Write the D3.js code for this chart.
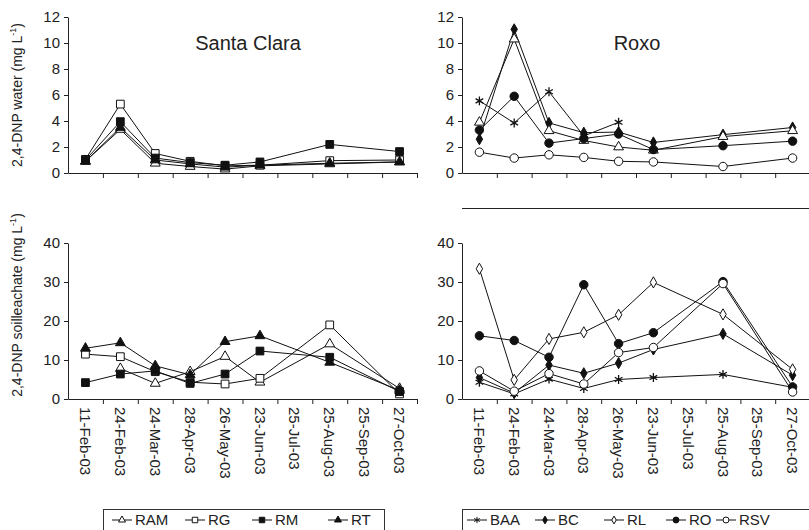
<!DOCTYPE html>
<html>
<head>
<meta charset="utf-8">
<title>2,4-DNP Santa Clara / Roxo</title>
<script src="https://d3js.org/d3.v7.min.js"></script>
<style>
html, body { margin: 0; padding: 0; background: #fff; }
svg { display: block; font-family: "Liberation Sans", Arial, sans-serif; }
.legend text { font-family: "Liberation Sans Narrow", "Liberation Sans", Arial, sans-serif; font-stretch: condensed; }
</style>
</head>
<body>
<div id="chart"></div>
<script>
// categories on the x axis (months with no sample are kept, lines jump over them)
var dates = ["11-Feb-03", "24-Feb-03", "24-Mar-03", "28-Apr-03", "26-May-03",
             "23-Jun-03", "25-Jul-03", "25-Aug-03", "25-Sep-03", "27-Oct-03"];

var waterTicks = [0, 2, 4, 6, 8, 10, 12];
var soilTicks = [0, 10, 20, 30, 40];

// Santa Clara, water (mg/L)
var scWaterRAM = [0.9, 3.35, 0.75, 0.5, 0.3, 0.55, null, 0.7, null, 0.85];
var scWaterRG  = [1.05, 5.3, 1.5, 0.9, 0.55, 0.6, null, 0.95, null, 1.0];
var scWaterRM  = [1.0, 3.95, 1.15, 0.8, 0.6, 0.85, null, 2.2, null, 1.65];
var scWaterRT  = [0.9, 3.5, 1.0, 0.7, 0.45, 0.6, null, 0.75, null, 0.85];

// Roxo, water (mg/L)
var rxWaterBAA = [5.55, 3.85, 6.25, 2.85, 3.9, null, null, null, null, null];
var rxWaterBC  = [2.6, 11.05, 3.85, 3.1, 3.15, 2.35, null, 2.95, null, 3.5];
var rxWaterRL  = [3.9, 10.3, 3.25, 2.5, 2.0, 1.75, null, 2.8, null, 3.25];
var rxWaterRO  = [3.3, 5.9, 2.3, 2.65, 3.0, 1.8, null, 2.1, null, 2.45];
var rxWaterRSV = [1.6, 1.15, 1.4, 1.2, 0.9, 0.85, null, 0.5, null, 1.15];

// Santa Clara, soil leachate (mg/L)
var scSoilRAM = [null, 7.8, 4.0, 7.0, 10.9, 4.3, null, 14.1, null, 2.7];
var scSoilRG  = [11.5, 10.85, 7.0, 4.3, 3.85, 5.3, null, 19.0, null, 1.3];
var scSoilRM  = [4.2, 6.4, 7.2, 4.0, 6.4, 12.3, null, 10.7, null, 1.9];
var scSoilRT  = [13.0, 14.4, 8.5, 6.2, 14.7, 16.2, null, 9.4, null, 2.2];

// Roxo, soil leachate (mg/L)
var rxSoilBAA = [4.3, 1.3, 5.1, 2.7, 5.0, 5.5, null, 6.3, null, 3.0];
var rxSoilBC  = [5.5, 1.5, 8.7, 6.6, 9.2, 12.7, null, 16.7, null, 6.1];
var rxSoilRL  = [33.4, 4.9, 15.4, 17.1, 21.6, 29.9, null, 21.7, null, 7.6];
var rxSoilRO  = [16.2, 15.0, 10.7, 29.3, 14.2, 17.0, null, 30.1, null, 3.1];
var rxSoilRSV = [7.2, 2.0, 6.5, 3.85, 11.9, 13.2, null, 29.6, null, 1.8];

var W = 809, H = 530;
var svg = d3.select("#chart").append("svg").attr("width", W).attr("height", H);

var marker = {
  "triOpen":  { type: d3.symbolTriangle, size: 42, fill: "#fff" },
  "triFill":  { type: d3.symbolTriangle, size: 42, fill: "#111" },
  "sqOpen":   { type: d3.symbolSquare, size: 60, fill: "#fff" },
  "sqFill":   { type: d3.symbolSquare, size: 60, fill: "#111" },
  "star":     { type: d3.symbolAsterisk, size: 55, fill: "none" },
  "diaFill":  { type: d3.symbolDiamond, size: 36, fill: "#111" },
  "diaOpen":  { type: d3.symbolDiamond, size: 36, fill: "#fff" },
  "cirFill":  { type: d3.symbolCircle, size: 56, fill: "#111" },
  "cirOpen":  { type: d3.symbolCircle, size: 56, fill: "#fff" }
};

var panels = [
  { x0: 68, x1: 417, top: 17, bottom: 173, max: 12, ticks: waterTicks, title: "Santa Clara", tx: 248, labels: false,
    series: [[scWaterRAM, "triOpen"], [scWaterRG, "sqOpen"], [scWaterRM, "sqFill"], [scWaterRT, "triFill"]] },
  { x0: 462, x1: 810, top: 17, bottom: 173, max: 12, ticks: waterTicks, title: "Roxo", tx: 637, labels: false,
    series: [[rxWaterBAA, "star"], [rxWaterBC, "diaFill"], [rxWaterRL, "triOpen"], [rxWaterRO, "cirFill"], [rxWaterRSV, "cirOpen"]] },
  { x0: 68, x1: 417, top: 243, bottom: 399, max: 40, ticks: soilTicks, labels: true,
    series: [[scSoilRAM, "triOpen"], [scSoilRG, "sqOpen"], [scSoilRM, "sqFill"], [scSoilRT, "triFill"]] },
  { x0: 462, x1: 810, top: 243, bottom: 399, max: 40, ticks: soilTicks, labels: true,
    series: [[rxSoilBAA, "star"], [rxSoilBC, "diaFill"], [rxSoilRL, "diaOpen"], [rxSoilRO, "cirFill"], [rxSoilRSV, "cirOpen"]] }
];

function drawMarker(sel, key) {
  var m = marker[key];
  sel.attr("d", d3.symbol().type(m.type).size(m.size))
    .attr("fill", m.fill)
    .attr("stroke", "#111")
    .attr("stroke-width", key === "star" ? 1.3 : 1);
}

panels.forEach(function (p) {
  var g = svg.append("g");
  var x = d3.scaleBand().domain(dates).range([p.x0, p.x1]).paddingInner(0).paddingOuter(0);
  var xi = d3.scaleLinear().domain([0, dates.length]).range([p.x0, p.x1]);
  var y = d3.scaleLinear().domain([0, p.max]).range([p.bottom, p.top]);
  var cx = function (i) { return x(dates[i]) + x.bandwidth() / 2; };

  // y axis
  g.append("g")
    .attr("transform", "translate(" + p.x0 + ",0)")
    .call(d3.axisLeft(y).tickValues(p.ticks).tickSize(4).tickPadding(4).tickSizeOuter(0))
    .call(function (a) {
      a.select(".domain").attr("stroke", "#222");
      a.selectAll(".tick line").attr("stroke", "#222");
      a.selectAll("text").attr("font-size", 15).attr("fill", "#222")
        .attr("font-family", "Liberation Sans, Arial, sans-serif");
    });

  // x axis, ticks between categories
  g.append("g")
    .attr("transform", "translate(0," + p.bottom + ")")
    .call(d3.axisBottom(xi).tickValues(d3.range(1, dates.length + 1)).tickSize(5).tickSizeOuter(0).tickFormat(""))
    .call(function (a) {
      a.select(".domain").attr("stroke", "#222");
      a.selectAll(".tick line").attr("stroke", "#222");
    });

  if (p.labels) {
    g.append("g").selectAll("text").data(dates).join("text")
      .attr("transform", function (d, i) { return "translate(" + cx(i) + "," + (p.bottom + 8) + ") rotate(90)"; })
      .attr("dy", "0.36em")
      .attr("font-size", 15)
      .attr("fill", "#222")
      .text(function (d) { return d; });
  }

  if (p.title) {
    g.append("text").attr("x", p.tx).attr("y", 50).attr("text-anchor", "middle")
      .attr("font-size", 20).attr("fill", "#222").text(p.title);
  }

  var line = d3.line().x(function (d) { return cx(d.i); }).y(function (d) { return y(d.v); });

  p.series.forEach(function (s) {
    var pts = s[0].map(function (v, i) { return { i: i, v: v }; }).filter(function (d) { return d.v !== null; });
    g.append("path").datum(pts).attr("d", line)
      .attr("fill", "none").attr("stroke", "#111").attr("stroke-width", 1);
    g.append("g").selectAll("path").data(pts).join("path")
      .attr("transform", function (d) { return "translate(" + cx(d.i) + "," + y(d.v) + ")"; })
      .call(drawMarker, s[1]);
  });
});

// thin rule above the lower right panel
svg.append("line").attr("x1", 462).attr("x2", 809).attr("y1", 208.5).attr("y2", 208.5)
  .attr("stroke", "#222").attr("stroke-width", 1);

// y axis titles
function yTitle(cy, label) {
  var t = svg.append("text")
    .attr("transform", "translate(22," + cy + ") rotate(-90)")
    .attr("text-anchor", "middle").attr("font-size", 14).attr("fill", "#222");
  t.append("tspan").text(label + " (mg L");
  t.append("tspan").attr("font-size", 9).attr("dy", -6).text("-1");
  t.append("tspan").attr("dy", 6).text(")");
}
yTitle(95, "2,4-DNP water");
yTitle(305, "2,4-DNP soilleachate");

// legends
var legendLeft = [["RAM", "triOpen"], ["RG", "sqOpen"], ["RM", "sqFill"], ["RT", "triFill"]];
var legendRight = [["BAA", "star"], ["BC", "diaFill"], ["RL", "diaOpen"], ["RO", "cirFill"], ["RSV", "cirOpen"]];

function legend(x0, x1, items, xs) {
  var g = svg.append("g").attr("class", "legend");
  g.append("rect").attr("x", x0 + 0.5).attr("y", 509.5).attr("width", x1 - x0).attr("height", 40)
    .attr("fill", "#fff").attr("stroke", "#333").attr("stroke-width", 1);
  items.forEach(function (it, k) {
    var lx = xs[k];
    g.append("line").attr("x1", lx).attr("x2", lx + 20).attr("y1", 520).attr("y2", 520)
      .attr("stroke", "#111").attr("stroke-width", 1);
    var key = it[1];
    var m = marker[key];
    g.append("path").attr("transform", "translate(" + (lx + 10) + ",520)")
      .attr("d", d3.symbol().type(m.type).size(m.size * 0.5))
      .attr("fill", m.fill).attr("stroke", "#111").attr("stroke-width", 1);
    g.append("text").attr("x", lx + 23).attr("y", 520).attr("dy", "0.36em")
      .attr("font-size", 15).attr("fill", "#222").text(it[0]);
  });
}
legend(103, 384, legendLeft, [112, 185, 252, 328]);
legend(462, 812, legendRight, [467, 535, 604, 666, 716]);
</script>
</body>
</html>
